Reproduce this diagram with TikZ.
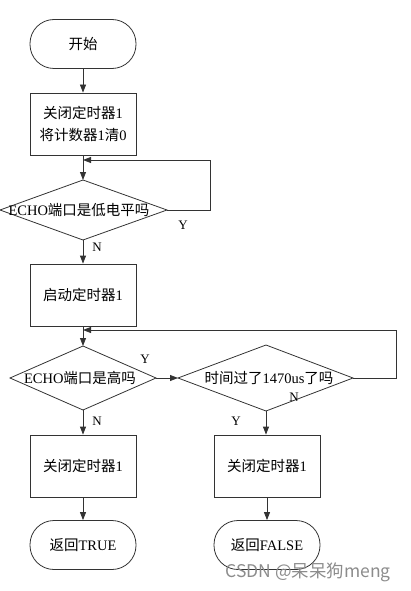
\documentclass[tikz,border=0pt]{standalone}
\usepackage{fontspec}
\setmainfont{Liberation Serif}
\newfontfamily\cjk{Noto Sans CJK SC}
\usetikzlibrary{arrows.meta}
\begin{document}
\begin{tikzpicture}[x=1pt,y=-1pt,
  line/.style={draw=black!80, line width=0.8pt},
  arr/.style={line, -{Triangle[length=8pt,width=6pt]}},
  procbox/.style={line, rectangle, minimum width=106pt, minimum height=62pt, inner sep=0pt, align=center, font=\fontsize{14.5}{22}\selectfont},
  term/.style={line, rectangle, rounded corners=24pt, minimum width=106pt, minimum height=49pt, inner sep=0pt, font=\fontsize{14.5}{17}\selectfont},
  dtext/.style={inner sep=0pt, font=\fontsize{14.5}{17}\selectfont},
  lbl/.style={inner sep=0pt, font=\fontsize{13}{15}\selectfont},
  ]
\useasboundingbox (0,0) rectangle (410,591);
% nodes
\node[term] (start) at (83,44) {\cjk 开始};
\node[procbox] (b1) at (83,124) {{\cjk 关闭定时器}1\\{\cjk 将计数器}1{\cjk 清}0};
% diamond 1
\coordinate (d1l) at (0,210); \coordinate (d1r) at (167,210);
\coordinate (d1t) at (83,180); \coordinate (d1b) at (83,240);
\draw[line] (d1l) -- (d1t) -- (d1r) -- (d1b) -- cycle;
\node[dtext] (d1) at (79,210) {ECHO{\cjk 端口是低电平吗}};
\node[procbox] (b2) at (83,295) {{\cjk 启动定时器}1};
% diamond 2
\coordinate (d2l) at (10,378); \coordinate (d2r) at (156,378);
\coordinate (d2t) at (83,346); \coordinate (d2b) at (83,410);
\draw[line] (d2l) -- (d2t) -- (d2r) -- (d2b) -- cycle;
\node[dtext] (d2) at (80,378) {ECHO{\cjk 端口是高吗}};
% diamond 3
\coordinate (d3l) at (178,378); \coordinate (d3r) at (353,378);
\coordinate (d3t) at (266,345); \coordinate (d3b) at (266,411);
\draw[line] (d3l) -- (d3t) -- (d3r) -- (d3b) -- cycle;
\node[dtext] (d3) at (269,378) {{\cjk 时间过了}1470us{\cjk 了吗}};
\node[procbox] (b3) at (83,466) {{\cjk 关闭定时器}1};
\node[procbox] (b4) at (267,466) {{\cjk 关闭定时器}1};
\node[term] (t1) at (83,545) {{\cjk 返回}TRUE};
\node[term] (t2) at (267,545) {{\cjk 返回}FALSE};
% loop junctions
\coordinate (j1) at (83,160);
\coordinate (j2) at (83,330);
% connectors
\draw[arr] (start) -- (b1);
\draw[arr] (b1) -- (d1t);
\draw[arr] (d1r) -- (210,210) |- (j1);
\draw[arr] (d1b) -- (b2);
\draw[arr] (b2) -- (d2t);
\draw[arr] (d2r) -- (d3l);
\draw[arr] (d3r) -- (396,378) |- (j2);
\draw[arr] (d2b) -- (b3);
\draw[arr] (d3b) -- (b4.north -| d3b);
\draw[arr] (b3) -- (t1);
\draw[arr] (b4) -- (t2);
% labels
\node[lbl] (ly1) at (183,225) {Y};
\node[lbl] (ln1) at (97,247) {N};
\node[lbl] (ly2) at (145,359) {Y};
\node[lbl] (ln2) at (97,421) {N};
\node[lbl] (ln3) at (294,397) {N};
\node[lbl] (ly3) at (236,421) {Y};
% watermark
\node[inner sep=0pt, text=black!45, font=\cjk\fontsize{17.5}{19}\selectfont] (wm) at (308,572) {CSDN @呆呆狗meng};
\end{tikzpicture}
\end{document}
